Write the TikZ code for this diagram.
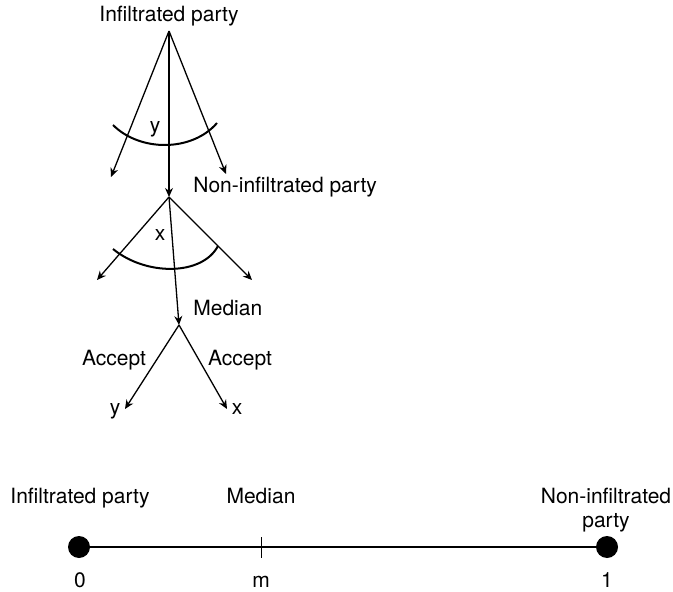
\documentclass[tikz,border=0pt]{standalone}
\usepackage{fontspec}
\setmainfont{TeX Gyre Heros}
\usetikzlibrary{arrows.meta}
\tikzset{
  move/.style={-{Stealth[length=4.5pt,width=4pt]}, line width=0.65pt},
  info/.style={line width=1pt},
  endpt/.style={circle, fill, inner sep=0pt, minimum size=11pt},
}
\begin{document}
\begin{tikzpicture}[x=0.5pt, y=-0.5pt, inner sep=0pt, font=\fontsize{10.5}{12}\selectfont]
      \useasboundingbox (0,0) rectangle (673,592);
      % game tree
      \draw
        (169,22) node[anchor=base] (ip){Infiltrated party}
        (193,193) node[anchor=base west] (nip){Non-infiltrated party}
        (193,316) node[anchor=base west] (med){Median}
        (155,133) node[anchor=base] (ly){y}
        (160,241) node[anchor=base] (lx){x}
        (114,365) node[anchor=base] (acl){Accept}
        (240,365) node[anchor=base] (acr){Accept}
        (115,414) node[anchor=base] (ey){y}
        (237,414) node[anchor=base] (ex){x};
      \coordinate (a1) at (169,31);
      \coordinate (a2) at (169,197);
      \coordinate (a3) at (179,325);
      \coordinate (l1) at (111,177);
      \coordinate (r1) at (226,174);
      \coordinate (l2) at (97,280);
      \coordinate (r2) at (252,280);
      \coordinate (l3) at (125,409);
      \coordinate (r3) at (227,409);
      \begin{scope}[move]
        \draw (a1) to (l1);
        \draw (a1) to (a2);
        \draw (a1) to (r1);
        \draw (a2) to (l2);
        \draw (a2) to (a3);
        \draw (a2) to (r2);
        \draw (a3) to (l3);
        \draw (a3) to (r3);
      \end{scope}
      \draw[info] (113,125) .. controls (140,152) and (192,152) .. (217,123);
      \draw[info] (113,249) .. controls (146,276) and (202,276) .. (218,246);
      % policy line
      \draw
        (80,503) node[anchor=base] (tip){Infiltrated party}
        (261,503) node[anchor=base] (tmed){Median}
        (606,527) node[anchor=base, align=center] (tnip){Non-infiltrated\\party}
        (80,587) node[anchor=base] (v0){0}
        (261,587) node[anchor=base] (vm){m}
        (607,587) node[anchor=base] (v1){1};
      \node[endpt] (p0) at (79,547) {};
      \node[endpt] (p1) at (607,547) {};
      \draw[line width=1.2pt] (p0) -- (p1);
      \draw[line width=0.5pt] (261,537) -- (261,558);
    \end{tikzpicture}
\end{document}
